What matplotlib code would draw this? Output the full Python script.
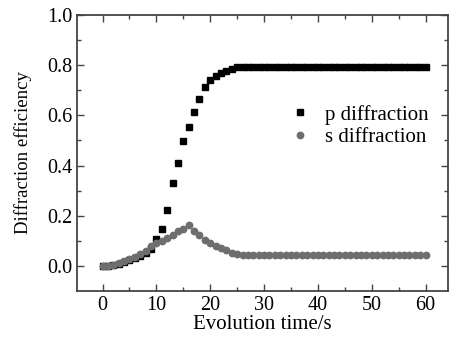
import numpy as np
import matplotlib.pyplot as plt

plt.rcParams['font.family'] = ['Liberation Serif', 'DejaVu Serif']

# Sample data (one reading per second)
time = np.arange(0, 61)
p_head = [0.0, 0.0, 0.003, 0.008, 0.015, 0.022, 0.030, 0.040, 0.050, 0.068,
          0.108, 0.146, 0.222, 0.330, 0.409, 0.498, 0.552, 0.612, 0.667, 0.712,
          0.740, 0.757, 0.767, 0.775, 0.783, 0.792]
s_head = [0.0, 0.0, 0.002, 0.010, 0.018, 0.027, 0.035, 0.047, 0.058, 0.078,
          0.090, 0.100, 0.110, 0.125, 0.138, 0.148, 0.162, 0.141, 0.124, 0.104,
          0.093, 0.081, 0.072, 0.062, 0.053, 0.047, 0.043]
p_diffraction = p_head + [0.792] * (len(time) - len(p_head))
s_diffraction = s_head + [0.042] * (len(time) - len(s_head))

fig = plt.figure(figsize=(4.49, 3.40), dpi=100)
ax = fig.add_axes([0.172, 0.144, 0.825, 0.812])

ax.plot(time, p_diffraction, 's', color='black', markersize=4.3, label='p diffraction')
ax.plot(time, s_diffraction, 'o', color='#6e6e6e', markersize=4.6, label='s diffraction')

ax.set_xlim(-4.7, 64.1)
ax.set_ylim(-0.1, 1.0)
ax.set_xticks(np.arange(0, 61, 10))
ax.set_xticks(np.arange(0, 61, 5), minor=True)
ax.set_yticks(np.arange(0, 1.01, 0.2))
ax.set_yticks(np.arange(0, 1.01, 0.1), minor=True)
ax.yaxis.set_major_formatter(plt.FormatStrFormatter('%.1f'))

ax.tick_params(which='both', direction='in', top=True, right=True,
               labelsize=14.5, color='#444444', width=1)
ax.tick_params(which='major', length=5)
ax.tick_params(which='minor', length=3)
for sp in ax.spines.values():
    sp.set_color('#444444')
    sp.set_linewidth(1.3)

ax.set_xlabel('Evolution time/s', fontsize=15, labelpad=0)
ax.set_ylabel('Diffraction efficiency', fontsize=13.5, labelpad=11)

ax.legend(loc='upper left', bbox_to_anchor=(0.573, 0.675), frameon=False,
          fontsize=15, handlelength=1.0, handletextpad=0.7,
          labelspacing=0.15, borderpad=0, borderaxespad=0)

fig.savefig('out.png', dpi=100)
